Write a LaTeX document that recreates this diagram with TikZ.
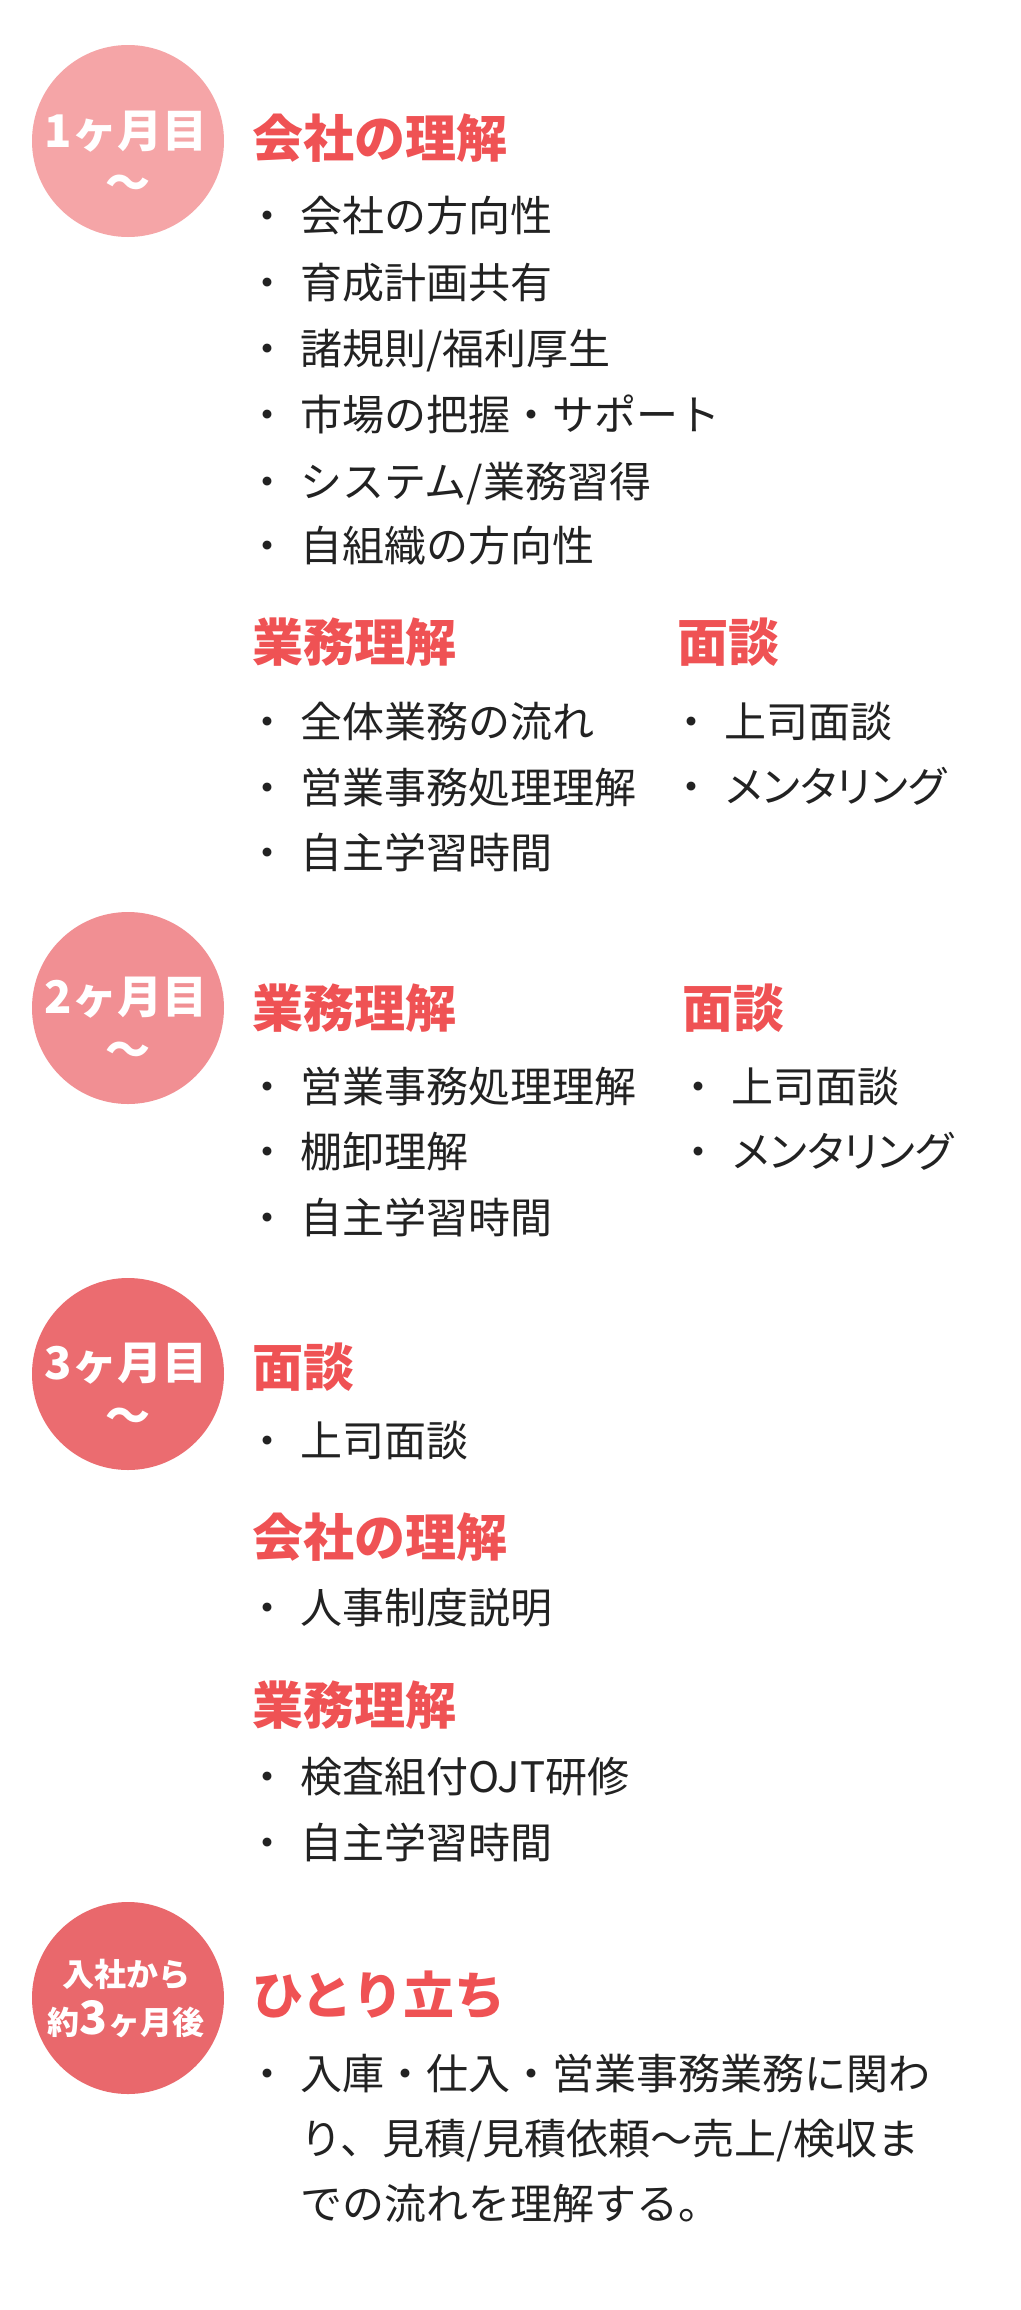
\documentclass[tikz,border=0pt]{standalone}
\usepackage{fontspec}
\setmainfont{Noto Sans CJK JP}
\newfontfamily\jp{Noto Sans CJK JP}
\newfontfamily\jpp[RawFeature=+palt]{Noto Sans CJK JP}
\usetikzlibrary{backgrounds}
\definecolor{headred}{HTML}{EF5254}
\definecolor{ink}{HTML}{222222}
\definecolor{cA}{HTML}{F5A5A7}
\definecolor{cB}{HTML}{F18F93}
\definecolor{cC}{HTML}{EB6C70}
\definecolor{cD}{HTML}{E9686C}
\definecolor{barTop}{HTML}{F6AAAC}
\definecolor{barBot}{HTML}{E54F54}
\tikzset{
  circ/.style={circle, minimum size=192pt, inner sep=0pt, fill=#1},
  head/.style={anchor=west, inner sep=0pt, text=headred, text height=44.5pt, text depth=6.5pt, font=\jp\bfseries\fontsize{51}{60}\selectfont},
  bul/.style={inner sep=0pt, text=ink, text height=37pt, text depth=5pt, font=\jp\fontsize{42}{50}\selectfont},
  item/.style={anchor=west, inner sep=0pt, text=ink, text height=37pt, text depth=5pt, font=\jp\fontsize{42}{50}\selectfont},
  itemp/.style={item, font=\jpp\fontsize{42}{50}\selectfont},
  clab/.style={inner sep=0pt, text=white, text height=39pt, text depth=5.5pt, font=\jp\bfseries\fontsize{45}{50}\selectfont},
  clabs/.style={inner sep=0pt, text=white, text height=28pt, text depth=4pt, font=\jp\bfseries\fontsize{32}{40}\selectfont},
}
\begin{document}
\begin{tikzpicture}[x=1pt,y=-1pt]
\useasboundingbox[fill=white] (0,0) rectangle (1020,2310);
% circles
\node[circ=cA] (c1) at (128,141) {};
\node[circ=cB] (c2) at (128,1008) {};
\node[circ=cC] (c3) at (128,1374) {};
\node[circ=cD] (c4) at (128,1998) {};
\begin{pgfonlayer}{background}
\shade[top color=barTop, bottom color=barBot] ([xshift=-12pt]c1.center) rectangle ([xshift=12pt]c4.center);
\end{pgfonlayer}
% circle labels
\node[clab] (c1a) at (126,131) {1ヶ月目};
\node[clab] (c1b) at (128,183) {〜};
\node[clab] (c2a) at (126,997) {2ヶ月目};
\node[clab] (c2b) at (128,1050) {〜};
\node[clab] (c3a) at (126,1363) {3ヶ月目};
\node[clab] (c3b) at (128,1416) {〜};
\node[clabs] (c4a) at (126,1974) {入社から};
\node[clabs] (c4b) at (126,2022) {約{\fontsize{46}{50}\selectfont 3}ヶ月後};
% section 1
\node[head] (h1) at (252,138) {会社の理解};
\foreach \y/\t [count=\i] in {215/{会社の方向性}, 282/{育成計画共有}, 348/{諸規則/福利厚生}, 414/{市場の把握・サポート}, 481/{システム/業務習得}, 545/{自組織の方向性}}{
  \node[bul] (b1\i) at (267,\y) {・};
  \node[item] (t1\i) at (300,\y) {\t};
}
\node[head] (h2) at (252,642) {業務理解};
\foreach \y/\t [count=\i] in {721/{全体業務の流れ}, 787/{営業事務処理理解}, 852/{自主学習時間}}{
  \node[bul] (b2\i) at (267,\y) {・};
  \node[item] (t2\i) at (300,\y) {\t};
}
\node[head] (h3) at (677,642) {面談};
\node[bul] (b31) at (691,721) {・};
\node[item] (t31) at (724,721) {上司面談};
\node[bul] (b32) at (691,786) {・};
\node[itemp] (t32) at (726,786) {メンタリング};
% section 2
\node[head] (h4) at (252,1008) {業務理解};
\foreach \y/\t [count=\i] in {1086/{営業事務処理理解}, 1151/{棚卸理解}, 1217/{自主学習時間}}{
  \node[bul] (b4\i) at (267,\y) {・};
  \node[item] (t4\i) at (300,\y) {\t};
}
\node[head] (h5) at (682,1008) {面談};
\node[bul] (b51) at (698,1086) {・};
\node[item] (t51) at (731,1086) {上司面談};
\node[bul] (b52) at (698,1151) {・};
\node[itemp] (t52) at (733,1151) {メンタリング};
% section 3
\node[head] (h6) at (252,1367) {面談};
\node[bul] (b61) at (267,1440) {・};
\node[item] (t61) at (300,1440) {上司面談};
\node[head] (h7) at (252,1537) {会社の理解};
\node[bul] (b71) at (267,1607) {・};
\node[item] (t71) at (300,1607) {人事制度説明};
\node[head] (h8) at (252,1705) {業務理解};
\node[bul] (b81) at (267,1776) {・};
\node[item] (t81) at (300,1776) {検査組付OJT研修};
\node[bul] (b82) at (267,1842) {・};
\node[item] (t82) at (300,1842) {自主学習時間};
% section 4
\node[head] (h9) at (252,1995) {ひとり立ち};
\node[bul] (b91) at (267,2073) {・};
\node[item] (t91) at (300,2073) {入庫・仕入・営業事務業務に関わ};
\node[item] (t92) at (300,2138) {り、見積/見積依頼〜売上/検収ま};
\node[item] (t93) at (300,2203) {での流れを理解する。};
\end{tikzpicture}
\end{document}
